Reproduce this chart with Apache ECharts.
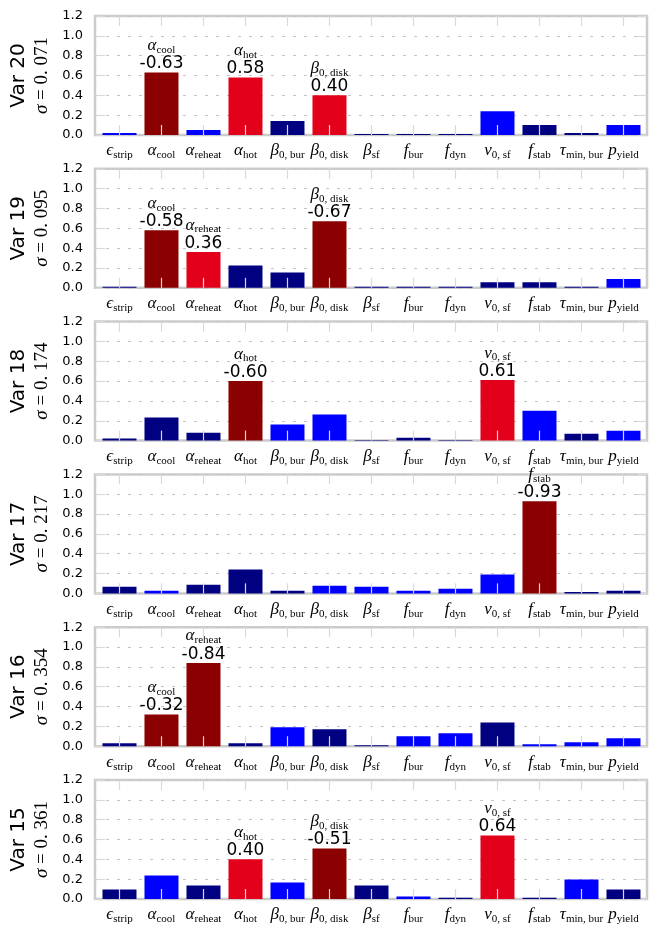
<!DOCTYPE html>
<html><head><meta charset="utf-8">
<script src="https://cdn.jsdelivr.net/npm/echarts@6/dist/echarts.min.js"></script>
<style>html,body{margin:0;padding:0;background:#fff}#c{width:655px;height:926px}</style>
</head><body><div id="c"></div>
<script>
// ---- data ----
const paramSymbols = ['ϵ','α','α','α','β','β','β','f','f','ν','f','τ','p'];
const paramSubs = ['strip','cool','reheat','hot','0, bur','0, disk','sf','bur','dyn','0, sf','stab','min, bur','yield'];
const panelNames = ['Var 20','Var 19','Var 18','Var 17','Var 16','Var 15'];
const panelSigmas = ['0. 071','0. 095','0. 174','0. 217','0. 354','0. 361'];
const yTickLabels = ['0.0','0.2','0.4','0.6','0.8','1.0','1.2'];
// signed correlation coefficients (bar height = |value|)
const var20 = [0.02, -0.63, 0.05, 0.58, -0.14, 0.40, -0.01, -0.01, -0.01, 0.24, -0.10, -0.02, 0.10];
const var19 = [-0.01, -0.58, 0.36, -0.225, -0.155, -0.67, -0.01, -0.01, -0.01, -0.055, -0.055, -0.01, 0.09];
const var18 = [-0.02, -0.233, -0.08, -0.60, 0.162, 0.263, -0.007, -0.03, -0.007, 0.61, 0.30, -0.07, 0.10];
const var17 = [-0.068, 0.027, -0.088, -0.24, -0.027, 0.078, 0.068, 0.027, 0.047, 0.19, -0.93, -0.013, -0.027];
const var16 = [-0.03, -0.32, -0.84, -0.03, 0.19, -0.17, -0.01, 0.10, 0.13, -0.24, 0.02, 0.04, 0.08];
const var15 = [-0.095, 0.238, -0.136, 0.40, 0.167, -0.51, -0.136, 0.024, -0.013, 0.64, -0.013, 0.197, -0.095];
const panelValues = [var20, var19, var18, var17, var16, var15];
const labelThreshold = 0.31;

// ---- styles ----
const COL = {pos:'#0000ff', neg:'#000080', posBig:'#e3001b', negBig:'#8b0000'};
const SERIF = '"Liberation Serif", "DejaVu Serif", serif';
const SANS = '"DejaVu Sans", sans-serif';
const mathRich = {
  m: {fontFamily: SERIF, fontStyle: 'italic', fontSize: 17, lineHeight: 20, verticalAlign: 'middle', color: '#000'},
  s: {fontFamily: SERIF, fontSize: 11, lineHeight: 20, verticalAlign: 'bottom', color: '#000'},
  v: {fontFamily: SANS, fontSize: 17, lineHeight: 17, color: '#000'}
};
const idxs = paramSymbols.map((_, i) => i);
const mathLabel = i => `{m|${paramSymbols[i]}}{s|${paramSubs[i]}}`;

const chart = echarts.init(document.getElementById('c'), null, {renderer: 'canvas'});
const grids = [], xAxes = [], yAxes = [], series = [];
const tickColor = '#d9d9d9';
panelNames.forEach((name, p) => {
  grids.push({left: 95, width: 552, top: 16 + p * 152.8, height: 119, show: true,
    borderColor: '#cccccc', borderWidth: 2.5, backgroundColor: 'transparent', containLabel: false});
  const xBase = {gridIndex: p, type: 'value', min: -0.583, max: 12.56, z: 5,
    axisLine: {show: false, onZero: false}, splitLine: {show: false}};
  xAxes.push(Object.assign({}, xBase, {position: 'bottom',
    axisTick: {show: true, inside: true, length: 10, customValues: idxs, lineStyle: {color: tickColor, width: 1.2}},
    axisLabel: {show: true, customValues: idxs, margin: 6, formatter: v => mathLabel(Math.round(v)), rich: mathRich}}));
  xAxes.push(Object.assign({}, xBase, {position: 'top',
    axisTick: {show: true, inside: true, length: 10, customValues: idxs, lineStyle: {color: tickColor, width: 1.2}},
    axisLabel: {show: false}}));
  const yBase = {gridIndex: p, type: 'value', min: 0, max: 1.2, interval: 0.2, z: 0,
    axisLine: {show: false, onZero: false},
    axisTick: {show: true, inside: true, length: 10, lineStyle: {color: tickColor, width: 1.2}}};
  yAxes.push(Object.assign({}, yBase, {position: 'left',
    axisLabel: {fontFamily: SANS, fontSize: 13, color: '#000', margin: 12,
      formatter: v => yTickLabels[Math.round(v / 0.2)]},
    splitLine: {show: true, lineStyle: {color: '#c4c4c4', type: [3, 8], width: 1}},
    name: `{a|${name}}\n{bi|σ}{b| = ${panelSigmas[p]}}`, nameLocation: 'middle', nameRotate: 90, nameGap: 42,
    nameTextStyle: {rich: {
      a: {fontFamily: SANS, fontSize: 20, lineHeight: 24, color: '#000'},
      bi: {fontFamily: SERIF, fontStyle: 'italic', fontSize: 19, lineHeight: 22, color: '#000'},
      b: {fontFamily: SERIF, fontSize: 19, lineHeight: 22, color: '#000'}
    }}}));
  yAxes.push(Object.assign({}, yBase, {position: 'right', axisLabel: {show: false}, splitLine: {show: false}}));
  const vals = panelValues[p];
  series.push({type: 'bar', xAxisIndex: 2 * p, yAxisIndex: 2 * p, barWidth: 34, z: 2,
    label: {show: false, position: 'top', distance: 0, rich: mathRich,
      formatter: prm => `${mathLabel(prm.dataIndex)}\n{v|${vals[prm.dataIndex].toFixed(2)}}`},
    data: vals.map((v, i) => {
      const big = Math.abs(v) > labelThreshold;
      return {value: [i, Math.abs(v)],
        itemStyle: {color: big ? (v < 0 ? COL.negBig : COL.posBig) : (v < 0 ? COL.neg : COL.pos)},
        label: {show: big}};
    })});
});
chart.setOption({animation: false, backgroundColor: '#fff', grid: grids, xAxis: xAxes, yAxis: yAxes, series});
</script></body></html>
